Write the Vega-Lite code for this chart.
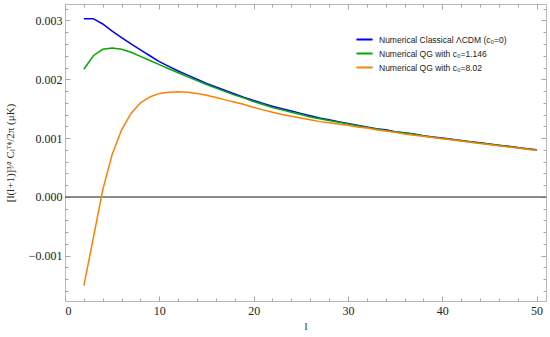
{
  "$schema": "https://vega.github.io/schema/vega-lite/v6.json",
  "width": 481,
  "height": 297,
  "autosize": {"type": "none"},
  "padding": {"left": 65, "top": 4, "right": 4, "bottom": 36},
  "background": "white",
  "config": {
    "view": {"stroke": "#b8b8b8", "strokeWidth": 1},
    "axis": {"domain": false, "grid": false, "tickColor": "#a8a8a8", "tickWidth": 1, "labelFont": "Liberation Serif", "labelFontSize": 12, "labelColor": "#222", "titleFont": "Liberation Serif", "titleFontWeight": "normal", "titleColor": "#222"}
  },
  "datasets": {
    "curves": [
      {"l":2,"s":"Numerical Classical ΛCDM (c₀=0)","v":0.00303},{"l":3,"s":"Numerical Classical ΛCDM (c₀=0)","v":0.00303},{"l":4,"s":"Numerical Classical ΛCDM (c₀=0)","v":0.00294},{"l":5,"s":"Numerical Classical ΛCDM (c₀=0)","v":0.00282},{"l":6,"s":"Numerical Classical ΛCDM (c₀=0)","v":0.00271},{"l":7,"s":"Numerical Classical ΛCDM (c₀=0)","v":0.00260},{"l":8,"s":"Numerical Classical ΛCDM (c₀=0)","v":0.00250},{"l":9,"s":"Numerical Classical ΛCDM (c₀=0)","v":0.00240},{"l":10,"s":"Numerical Classical ΛCDM (c₀=0)","v":0.00230},{"l":11,"s":"Numerical Classical ΛCDM (c₀=0)","v":0.00222},{"l":12,"s":"Numerical Classical ΛCDM (c₀=0)","v":0.00214},{"l":13,"s":"Numerical Classical ΛCDM (c₀=0)","v":0.00207},{"l":14,"s":"Numerical Classical ΛCDM (c₀=0)","v":0.00200},{"l":15,"s":"Numerical Classical ΛCDM (c₀=0)","v":0.00193},{"l":16,"s":"Numerical Classical ΛCDM (c₀=0)","v":0.00187},{"l":17,"s":"Numerical Classical ΛCDM (c₀=0)","v":0.00181},{"l":18,"s":"Numerical Classical ΛCDM (c₀=0)","v":0.00175},{"l":19,"s":"Numerical Classical ΛCDM (c₀=0)","v":0.00169},{"l":20,"s":"Numerical Classical ΛCDM (c₀=0)","v":0.00164},{"l":21,"s":"Numerical Classical ΛCDM (c₀=0)","v":0.00159},{"l":22,"s":"Numerical Classical ΛCDM (c₀=0)","v":0.00154},{"l":23,"s":"Numerical Classical ΛCDM (c₀=0)","v":0.00150},{"l":24,"s":"Numerical Classical ΛCDM (c₀=0)","v":0.00146},{"l":25,"s":"Numerical Classical ΛCDM (c₀=0)","v":0.00142},{"l":26,"s":"Numerical Classical ΛCDM (c₀=0)","v":0.00138},{"l":27,"s":"Numerical Classical ΛCDM (c₀=0)","v":0.00134},{"l":28,"s":"Numerical Classical ΛCDM (c₀=0)","v":0.00131},{"l":29,"s":"Numerical Classical ΛCDM (c₀=0)","v":0.00128},{"l":30,"s":"Numerical Classical ΛCDM (c₀=0)","v":0.00125},{"l":31,"s":"Numerical Classical ΛCDM (c₀=0)","v":0.00122},{"l":32,"s":"Numerical Classical ΛCDM (c₀=0)","v":0.00119},{"l":33,"s":"Numerical Classical ΛCDM (c₀=0)","v":0.00116},{"l":34,"s":"Numerical Classical ΛCDM (c₀=0)","v":0.00114},{"l":35,"s":"Numerical Classical ΛCDM (c₀=0)","v":0.00111},{"l":36,"s":"Numerical Classical ΛCDM (c₀=0)","v":0.00109},{"l":37,"s":"Numerical Classical ΛCDM (c₀=0)","v":0.00107},{"l":38,"s":"Numerical Classical ΛCDM (c₀=0)","v":0.00104},{"l":39,"s":"Numerical Classical ΛCDM (c₀=0)","v":0.00102},{"l":40,"s":"Numerical Classical ΛCDM (c₀=0)","v":0.00100},{"l":41,"s":"Numerical Classical ΛCDM (c₀=0)","v":0.00098},{"l":42,"s":"Numerical Classical ΛCDM (c₀=0)","v":0.00096},{"l":43,"s":"Numerical Classical ΛCDM (c₀=0)","v":0.00094},{"l":44,"s":"Numerical Classical ΛCDM (c₀=0)","v":0.00092},{"l":45,"s":"Numerical Classical ΛCDM (c₀=0)","v":0.00090},{"l":46,"s":"Numerical Classical ΛCDM (c₀=0)","v":0.00088},{"l":47,"s":"Numerical Classical ΛCDM (c₀=0)","v":0.00086},{"l":48,"s":"Numerical Classical ΛCDM (c₀=0)","v":0.00084},{"l":49,"s":"Numerical Classical ΛCDM (c₀=0)","v":0.00082},{"l":50,"s":"Numerical Classical ΛCDM (c₀=0)","v":0.00080},
      {"l":2,"s":"Numerical QG with c₀=1.146","v":0.00217},{"l":3,"s":"Numerical QG with c₀=1.146","v":0.00240},{"l":4,"s":"Numerical QG with c₀=1.146","v":0.00251},{"l":5,"s":"Numerical QG with c₀=1.146","v":0.00253},{"l":6,"s":"Numerical QG with c₀=1.146","v":0.00251},{"l":7,"s":"Numerical QG with c₀=1.146","v":0.00246},{"l":8,"s":"Numerical QG with c₀=1.146","v":0.00239},{"l":9,"s":"Numerical QG with c₀=1.146","v":0.00232},{"l":10,"s":"Numerical QG with c₀=1.146","v":0.00225},{"l":11,"s":"Numerical QG with c₀=1.146","v":0.00218},{"l":12,"s":"Numerical QG with c₀=1.146","v":0.00211},{"l":13,"s":"Numerical QG with c₀=1.146","v":0.00204},{"l":14,"s":"Numerical QG with c₀=1.146","v":0.00198},{"l":15,"s":"Numerical QG with c₀=1.146","v":0.00191},{"l":16,"s":"Numerical QG with c₀=1.146","v":0.00185},{"l":17,"s":"Numerical QG with c₀=1.146","v":0.00179},{"l":18,"s":"Numerical QG with c₀=1.146","v":0.00173},{"l":19,"s":"Numerical QG with c₀=1.146","v":0.00168},{"l":20,"s":"Numerical QG with c₀=1.146","v":0.00162},{"l":21,"s":"Numerical QG with c₀=1.146","v":0.00157},{"l":22,"s":"Numerical QG with c₀=1.146","v":0.00152},{"l":23,"s":"Numerical QG with c₀=1.146","v":0.00148},{"l":24,"s":"Numerical QG with c₀=1.146","v":0.00144},{"l":25,"s":"Numerical QG with c₀=1.146","v":0.00140},{"l":26,"s":"Numerical QG with c₀=1.146","v":0.00136},{"l":27,"s":"Numerical QG with c₀=1.146","v":0.00133},{"l":28,"s":"Numerical QG with c₀=1.146","v":0.00130},{"l":29,"s":"Numerical QG with c₀=1.146","v":0.00127},{"l":30,"s":"Numerical QG with c₀=1.146","v":0.00124},{"l":31,"s":"Numerical QG with c₀=1.146","v":0.00121},{"l":32,"s":"Numerical QG with c₀=1.146","v":0.00118},{"l":33,"s":"Numerical QG with c₀=1.146","v":0.001155},{"l":34,"s":"Numerical QG with c₀=1.146","v":0.00113},{"l":35,"s":"Numerical QG with c₀=1.146","v":0.001105},{"l":36,"s":"Numerical QG with c₀=1.146","v":0.001085},{"l":37,"s":"Numerical QG with c₀=1.146","v":0.001065},{"l":38,"s":"Numerical QG with c₀=1.146","v":0.001035},{"l":39,"s":"Numerical QG with c₀=1.146","v":0.001015},{"l":40,"s":"Numerical QG with c₀=1.146","v":0.000995},{"l":41,"s":"Numerical QG with c₀=1.146","v":0.000975},{"l":42,"s":"Numerical QG with c₀=1.146","v":0.000955},{"l":43,"s":"Numerical QG with c₀=1.146","v":0.000935},{"l":44,"s":"Numerical QG with c₀=1.146","v":0.000915},{"l":45,"s":"Numerical QG with c₀=1.146","v":0.000895},{"l":46,"s":"Numerical QG with c₀=1.146","v":0.000875},{"l":47,"s":"Numerical QG with c₀=1.146","v":0.000855},{"l":48,"s":"Numerical QG with c₀=1.146","v":0.000835},{"l":49,"s":"Numerical QG with c₀=1.146","v":0.000815},{"l":50,"s":"Numerical QG with c₀=1.146","v":0.000797},
      {"l":2,"s":"Numerical QG with c₀=8.02","v":-0.00151},{"l":3,"s":"Numerical QG with c₀=8.02","v":-0.00070},{"l":4,"s":"Numerical QG with c₀=8.02","v":0.00012},{"l":5,"s":"Numerical QG with c₀=8.02","v":0.00072},{"l":6,"s":"Numerical QG with c₀=8.02","v":0.00114},{"l":7,"s":"Numerical QG with c₀=8.02","v":0.00142},{"l":8,"s":"Numerical QG with c₀=8.02","v":0.00160},{"l":9,"s":"Numerical QG with c₀=8.02","v":0.00170},{"l":10,"s":"Numerical QG with c₀=8.02","v":0.00176},{"l":11,"s":"Numerical QG with c₀=8.02","v":0.00178},{"l":12,"s":"Numerical QG with c₀=8.02","v":0.00179},{"l":13,"s":"Numerical QG with c₀=8.02","v":0.00178},{"l":14,"s":"Numerical QG with c₀=8.02","v":0.00176},{"l":15,"s":"Numerical QG with c₀=8.02","v":0.00173},{"l":16,"s":"Numerical QG with c₀=8.02","v":0.00169},{"l":17,"s":"Numerical QG with c₀=8.02","v":0.00165},{"l":18,"s":"Numerical QG with c₀=8.02","v":0.00161},{"l":19,"s":"Numerical QG with c₀=8.02","v":0.00157},{"l":20,"s":"Numerical QG with c₀=8.02","v":0.00152},{"l":21,"s":"Numerical QG with c₀=8.02","v":0.00148},{"l":22,"s":"Numerical QG with c₀=8.02","v":0.00144},{"l":23,"s":"Numerical QG with c₀=8.02","v":0.00140},{"l":24,"s":"Numerical QG with c₀=8.02","v":0.00137},{"l":25,"s":"Numerical QG with c₀=8.02","v":0.00134},{"l":26,"s":"Numerical QG with c₀=8.02","v":0.00131},{"l":27,"s":"Numerical QG with c₀=8.02","v":0.00128},{"l":28,"s":"Numerical QG with c₀=8.02","v":0.00126},{"l":29,"s":"Numerical QG with c₀=8.02","v":0.00124},{"l":30,"s":"Numerical QG with c₀=8.02","v":0.00122},{"l":31,"s":"Numerical QG with c₀=8.02","v":0.00119},{"l":32,"s":"Numerical QG with c₀=8.02","v":0.00117},{"l":33,"s":"Numerical QG with c₀=8.02","v":0.00114},{"l":34,"s":"Numerical QG with c₀=8.02","v":0.00112},{"l":35,"s":"Numerical QG with c₀=8.02","v":0.00110},{"l":36,"s":"Numerical QG with c₀=8.02","v":0.00107},{"l":37,"s":"Numerical QG with c₀=8.02","v":0.00105},{"l":38,"s":"Numerical QG with c₀=8.02","v":0.00103},{"l":39,"s":"Numerical QG with c₀=8.02","v":0.00101},{"l":40,"s":"Numerical QG with c₀=8.02","v":0.00099},{"l":41,"s":"Numerical QG with c₀=8.02","v":0.00097},{"l":42,"s":"Numerical QG with c₀=8.02","v":0.00095},{"l":43,"s":"Numerical QG with c₀=8.02","v":0.00093},{"l":44,"s":"Numerical QG with c₀=8.02","v":0.00091},{"l":45,"s":"Numerical QG with c₀=8.02","v":0.00089},{"l":46,"s":"Numerical QG with c₀=8.02","v":0.00087},{"l":47,"s":"Numerical QG with c₀=8.02","v":0.00085},{"l":48,"s":"Numerical QG with c₀=8.02","v":0.00083},{"l":49,"s":"Numerical QG with c₀=8.02","v":0.00081},{"l":50,"s":"Numerical QG with c₀=8.02","v":0.00079}
    ],
    "zero": [{"z": 0}],
    "ticksx": [{"t": 0}, {"t": 51}],
    "ticksy": [{"t": -0.00177}, {"t": 0.00328}]
  },
  "resolve": {"axis": {"x": "independent", "y": "independent"}},
  "layer": [
    {
      "data": {"name": "zero"},
      "mark": {"type": "rule", "color": "#666666", "strokeWidth": 1.5},
      "encoding": {
        "y": {"field": "z", "type": "quantitative", "axis": null}
      }
    },
    {
      "data": {"name": "curves"},
      "mark": {"type": "line", "strokeWidth": 1.5, "clip": true},
      "encoding": {
        "x": {
          "field": "l", "type": "quantitative",
          "scale": {"domain": [0, 51], "nice": false, "zero": false},
          "axis": {
            "orient": "bottom",
            "values": [0,10,20,30,40,50],
            "ticks": false,
            "tickSize": 0,
            "labelPadding": 4,
            "title": "l",
            "titleFontSize": 11,
            "titlePadding": 4
          }
        },
        "y": {
          "field": "v", "type": "quantitative",
          "scale": {"domain": [-0.00177, 0.00328], "nice": false, "zero": false},
          "axis": {
            "orient": "left",
            "values": [-0.001,0,0.001,0.002,0.003],
            "format": ".3f",
            "ticks": false,
            "tickSize": 0,
            "labelPadding": 3,
            "title": "[l(l+1)]³⁄² Cₗᵀᶲ/2π (μK)",
            "titleFontSize": 11,
            "titlePadding": 13
          }
        },
        "color": {
          "field": "s", "type": "nominal",
          "scale": {
            "domain": ["Numerical Classical ΛCDM (c₀=0)", "Numerical QG with c₀=1.146", "Numerical QG with c₀=8.02"],
            "range": ["#0000ff", "#00aa00", "#ff8000"]
          },
          "legend": {
            "orient": "none", "legendX": 290, "legendY": 26, "title": null,
            "symbolType": "stroke", "symbolStrokeWidth": 2, "symbolSize": 260,
            "labelFont": "Liberation Sans", "labelFontSize": 8.5, "labelColor": "#222",
            "rowPadding": 0, "labelOffset": 5
          }
        }
      }
    },
    {
      "data": {"name": "ticksx"},
      "mark": {"type": "point", "opacity": 0},
      "encoding": {
        "x": {
          "field": "t", "type": "quantitative",
          "axis": {"orient": "bottom", "labels": false, "title": null, "values": [0,10,20,30,40,50], "tickSize": 5, "offset": -5}
        }
      }
    },
    {
      "data": {"name": "ticksx"},
      "mark": {"type": "point", "opacity": 0},
      "encoding": {
        "x": {
          "field": "t", "type": "quantitative",
          "axis": {"orient": "top", "labels": false, "title": null, "values": [0,10,20,30,40,50], "tickSize": 5, "offset": -5}
        }
      }
    },
    {
      "data": {"name": "ticksx"},
      "mark": {"type": "point", "opacity": 0},
      "encoding": {
        "x": {
          "field": "t", "type": "quantitative",
          "axis": {"orient": "top", "labels": false, "title": null, "values": [2,4,6,8,12,14,16,18,22,24,26,28,32,34,36,38,42,44,46,48], "tickSize": 3, "offset": -3}
        }
      }
    },
    {
      "data": {"name": "ticksx"},
      "mark": {"type": "point", "opacity": 0},
      "encoding": {
        "x": {
          "field": "t", "type": "quantitative",
          "axis": {"orient": "bottom", "labels": false, "title": null, "values": [2,4,6,8,12,14,16,18,22,24,26,28,32,34,36,38,42,44,46,48], "tickSize": 3, "offset": -3}
        }
      }
    },
    {
      "data": {"name": "ticksy"},
      "mark": {"type": "point", "opacity": 0},
      "encoding": {
        "y": {
          "field": "t", "type": "quantitative",
          "axis": {"orient": "left", "labels": false, "title": null, "values": [-0.001,0,0.001,0.002,0.003], "tickSize": 5, "offset": -5}
        }
      }
    },
    {
      "data": {"name": "ticksy"},
      "mark": {"type": "point", "opacity": 0},
      "encoding": {
        "y": {
          "field": "t", "type": "quantitative",
          "axis": {"orient": "right", "labels": false, "title": null, "values": [-0.001,0,0.001,0.002,0.003], "tickSize": 5, "offset": -5}
        }
      }
    },
    {
      "data": {"name": "ticksy"},
      "mark": {"type": "point", "opacity": 0},
      "encoding": {
        "y": {
          "field": "t", "type": "quantitative",
          "axis": {"orient": "right", "labels": false, "title": null, "values": [-0.0016,-0.0014,-0.0012,-0.0008,-0.0006,-0.0004,-0.0002,0.0002,0.0004,0.0006,0.0008,0.0012,0.0014,0.0016,0.0018,0.0022,0.0024,0.0026,0.0028,0.0032], "tickSize": 3, "offset": -3}
        }
      }
    },
    {
      "data": {"name": "ticksy"},
      "mark": {"type": "point", "opacity": 0},
      "encoding": {
        "y": {
          "field": "t", "type": "quantitative",
          "axis": {"orient": "left", "labels": false, "title": null, "values": [-0.0016,-0.0014,-0.0012,-0.0008,-0.0006,-0.0004,-0.0002,0.0002,0.0004,0.0006,0.0008,0.0012,0.0014,0.0016,0.0018,0.0022,0.0024,0.0026,0.0028,0.0032], "tickSize": 3, "offset": -3}
        }
      }
    }
  ]
}
